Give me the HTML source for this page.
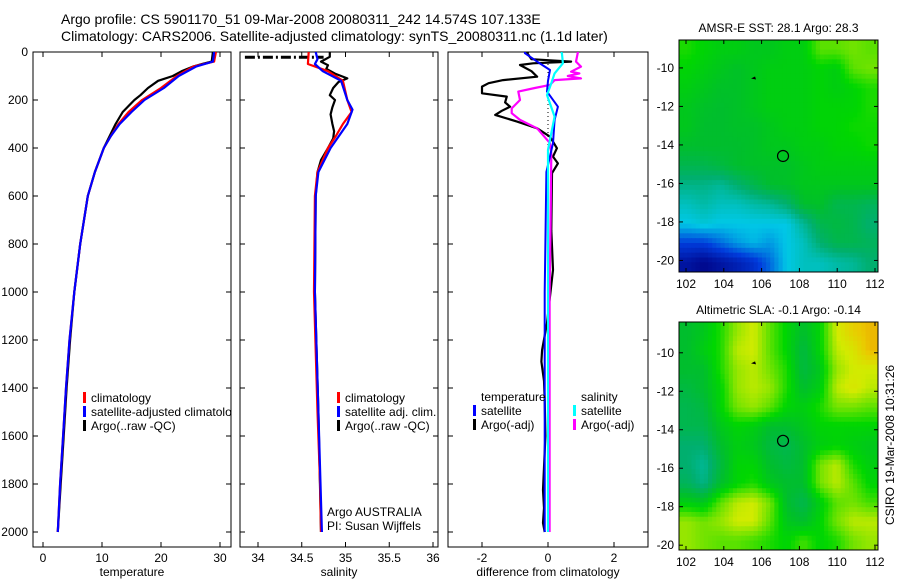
<!DOCTYPE html>
<html><head><meta charset="utf-8"><style>
html,body{margin:0;padding:0;background:#fff;}
svg{display:block;font-family:"Liberation Sans",sans-serif;}
</style></head><body>
<svg id="fig" width="900" height="580" viewBox="0 0 900 580" xmlns="http://www.w3.org/2000/svg">
<text x="61" y="24" font-size="14">Argo profile: CS 5901170_51 09-Mar-2008 20080311_242 14.574S 107.133E</text>
<text x="61" y="41" font-size="14">Climatology: CARS2006. Satellite-adjusted climatology: synTS_20080311.nc (1.1d later)</text>
<g id="g1"></g>
<g id="g2"></g>
<g id="g3"></g>
<g id="g4"></g>
<g id="g5"></g>
<text transform="translate(894,445) rotate(-90)" text-anchor="middle" font-size="12">CSIRO 19-Mar-2008 10:31:26</text>
</svg>
<script>
// ---------- data ----------
const depthTicks=[0,200,400,600,800,1000,1200,1400,1600,1800,2000];
const tempTicks=[0,10,20,30];
const salTicks=[34,34.5,35,35.5,36];
const diffTicks=[-2,0,2];
const lonTicks=[102,104,106,108,110,112];
const latTicks=[-10,-12,-14,-16,-18,-20];

const tClimD=[0,40,60,100,150,200,250,300,350,400,500,600,800,1000,1200,1400,1600,1800,2000];
const tClimV=[29.3,29,25.5,22.7,20,16.8,14.5,12.8,11.5,10.3,8.8,7.6,6.3,5.3,4.5,3.9,3.4,2.9,2.5];
const tAdjD=[0,40,60,100,150,200,250,300,350,400,500,600,800,1000,1200,1400,1600,1800,2000];
const tAdjV=[29,28.8,26,23,20.5,17.2,15,13,11.5,10.3,8.8,7.6,6.3,5.3,4.5,3.9,3.4,2.9,2.5];
const tArgoD=[0,40,50,60,80,100,120,150,180,200,250,300,350,400,500,600,800,1000,1200,1400,1600,1800,2000];
const tArgoV=[28.8,28.6,27,25.5,23.5,22,19.5,17.8,16.5,15.5,13.5,12.3,11.3,10.3,8.8,7.6,6.3,5.3,4.6,4.0,3.5,3.0,2.5];

const sClimD=[0,50,80,120,200,250,300,350,400,500,600,1000,1500,1800,2000];
const sClimV=[34.58,34.57,34.8,34.97,35.02,35.07,34.97,34.89,34.8,34.68,34.65,34.64,34.68,34.71,34.72];
const sAdjD=[0,30,50,80,120,200,240,300,400,500,600,1000,1500,2000];
const sAdjV=[34.66,34.68,34.65,34.74,34.95,35.02,35.08,35.02,34.83,34.69,34.66,34.65,34.69,34.73];
const sArgoD=[0,20,40,55,70,90,110,125,150,180,200,230,260,300,330,360,400,450,500,600,1000,1500,2000];
const sArgoV=[34.82,34.82,34.72,34.8,34.78,34.88,35.02,34.92,34.86,34.82,34.88,34.85,34.83,34.85,34.87,34.86,34.8,34.72,34.68,34.66,34.65,34.69,34.72];
const sBadD=[22,22];
const sBadV=[33.85,34.75];

const dTArgoD=[0,5,30,40,47,54,80,103,117,130,144,172,186,210,228,245,262,290,318,353,401,436,464,505,742,908,1129,1242,1290,1370,1450,1600,1825,1900,1962,2000];
const dTArgoV=[-0.6,-0.63,-0.5,0.7,-0.45,-0.85,-0.5,-0.33,-1.36,-1.8,-2.0,-2.0,-1.25,-1.3,-1.15,-1.4,-1.6,-0.94,-0.33,0.06,0.27,0.15,0.3,0.12,0.1,0.15,-0.03,-0.18,-0.2,-0.12,-0.1,-0.08,-0.15,-0.12,-0.15,-0.1];
const dTSatD=[0,5,40,75,120,165,228,283,380,500,1000,2000];
const dTSatV=[-0.7,-0.7,-0.33,0.06,0,-0.03,0.3,0.2,0.15,-0.05,-0.1,-0.1];
const dSArgoD=[0,5,40,61,82,89,100,110,117,137,150,165,200,235,255,283,318,380,422,700,1000,2000];
const dSArgoV=[0.9,0.9,0.85,1.0,0.7,0.95,0.6,1.0,0.2,0.06,-0.4,-0.9,-0.85,-1.1,-1.1,-0.85,-0.33,0.06,0.1,0.08,0.05,0.05];
const dSSatD=[0,5,47,89,130,179,269,408,1000,2000];
const dSSatV=[0.4,0.42,0.45,0.2,0.1,-0.03,0.2,0,0,0];

const sstGrid=[
[.65,.62,.6,.6,.58,.58,.6,.6,.7,.7,.72,.7],
[.62,.6,.58,.56,.58,.6,.6,.6,.62,.6,.7,.72],
[.6,.58,.56,.56,.58,.6,.6,.6,.62,.6,.62,.65],
[.58,.56,.55,.56,.58,.6,.6,.6,.62,.62,.62,.65],
[.58,.55,.55,.56,.56,.58,.6,.6,.62,.62,.64,.64],
[.55,.55,.55,.55,.56,.58,.58,.6,.6,.62,.62,.64],
[.5,.5,.52,.55,.56,.56,.56,.58,.6,.6,.6,.6],
[.42,.42,.4,.45,.5,.55,.56,.58,.58,.58,.58,.58],
[.35,.38,.35,.35,.38,.4,.45,.55,.56,.5,.5,.48],
[.3,.32,.3,.3,.3,.3,.3,.4,.5,.52,.5,.45],
[.15,.15,.2,.25,.28,.25,.3,.35,.45,.5,.5,.48],
[.05,.02,.05,.08,.12,.2,.3,.35,.35,.38,.4,.45]];
const slaGrid=[
[.55,.58,.65,.75,.8,.7,.62,.55,.62,.8,.88,.92],
[.55,.6,.65,.78,.8,.7,.62,.52,.62,.78,.82,.92],
[.55,.55,.65,.75,.78,.72,.65,.52,.58,.75,.8,.8],
[.52,.55,.62,.75,.78,.75,.65,.55,.6,.78,.82,.78],
[.5,.52,.62,.72,.75,.7,.62,.6,.65,.72,.72,.7],
[.5,.5,.58,.62,.6,.55,.55,.58,.62,.62,.62,.62],
[.45,.45,.55,.6,.58,.52,.5,.55,.6,.62,.6,.58],
[.45,.4,.52,.62,.62,.55,.52,.55,.72,.78,.65,.6],
[.48,.42,.55,.62,.65,.58,.55,.55,.72,.78,.7,.62],
[.6,.58,.7,.78,.8,.72,.55,.5,.6,.7,.72,.68],
[.75,.72,.75,.8,.8,.7,.58,.55,.62,.72,.78,.78],
[.75,.72,.7,.7,.68,.65,.62,.68,.62,.65,.72,.75]];
const floatPos=[107.133,-14.574];
const prevPos=[105.6,-10.5];

// ---------- helpers ----------
const NS="http://www.w3.org/2000/svg";
function mk(parent,tag,attrs,text){const e=document.createElementNS(NS,tag);for(const k in attrs)e.setAttribute(k,attrs[k]);if(text!==undefined)e.textContent=text;parent.appendChild(e);return e;}
const Y0=52,YS=0.24;
const yD=d=>Y0+d*YS;
const xT=v=>43+v*5.9;
const xS=v=>258+(v-34)*87.5;
const xDf=v=>548+v*33;
function pts(D,V,fx){return D.map((d,i)=>fx(V[i]).toFixed(1)+","+yD(d).toFixed(1)).join(" ");}

function panel(g,x0,x1,xt,fx,fmt,xlabel,showY){
  const yb=547;
  const f=mk(g,"rect",{x:x0,y:Y0,width:x1-x0,height:yb-Y0,fill:"none",stroke:"#000","stroke-width":1});
  
  
  depthTicks.forEach(d=>{
    const y=yD(d);
    mk(g,"line",{x1:x0,y1:y,x2:x0+5,y2:y,stroke:"#000"});
    mk(g,"line",{x1:x1-5,y1:y,x2:x1,y2:y,stroke:"#000"});
    if(showY){const t=mk(g,"text",{x:28,y:y+4,"font-size":12,"text-anchor":"end"},String(d));
      
      }
  });
  xt.forEach(v=>{
    const x=fx(v);
    mk(g,"line",{x1:x,y1:Y0,x2:x,y2:Y0+5,stroke:"#000"});
    mk(g,"line",{x1:x,y1:yb-5,x2:x,y2:yb,stroke:"#000"});
    const t=mk(g,"text",{x:x,y:562,"font-size":12,"text-anchor":"middle"},fmt(v));
    
    
  });
  const xl=mk(g,"text",{x:(x0+x1)/2,y:576,"font-size":12,"text-anchor":"middle"},xlabel);
  
  
}
function line(g,D,V,fx,col,w,name,dash){
  const p=mk(g,"polyline",{points:pts(D,V,fx),fill:"none",stroke:col,"stroke-width":w,"stroke-linejoin":"round"});
  if(dash)p.setAttribute("stroke-dasharray",dash);
  
  
}
function legend(g,x,y,col,txt){
  if(col)mk(g,"rect",{x:x-8,y:y-10,width:3,height:11,fill:col});
  const t=mk(g,"text",{x:x,y:y,"font-size":12},txt);
  
  
}

// ---------- temperature ----------
const g1=document.getElementById("g1");
const cp1=mk(g1,"clipPath",{id:"c1"});mk(cp1,"rect",{x:33,y:52,width:198,height:495});
panel(g1,33,231,tempTicks,xT,String,"temperature",true);
const h1=mk(g1,"g",{"clip-path":"url(#c1)"});
line(h1,tArgoD,tArgoV,xT,"#000",2.2,"temp-argo-line");
line(h1,tClimD,tClimV,xT,"#f00",2.2,"temp-clim-line");
line(h1,tAdjD,tAdjV,xT,"#00f",2.2,"temp-adj-line");
legend(h1,91,402,"#f00","climatology");
legend(h1,91,416,"#00f","satellite-adjusted climatology");
legend(h1,91,430,"#000","Argo(..raw -QC)");

// ---------- salinity ----------
const g2=document.getElementById("g2");
const cp2=mk(g2,"clipPath",{id:"c2"});mk(cp2,"rect",{x:240,y:52,width:198,height:495});
panel(g2,240,438,salTicks,xS,String,"salinity",false);
const h2=mk(g2,"g",{"clip-path":"url(#c2)"});
line(h2,sBadD,sBadV,xS,"#000",3,"sal-argo-bad-values","10,3,2,3");
line(h2,sArgoD,sArgoV,xS,"#000",2.2,"sal-argo-line");
line(h2,sClimD,sClimV,xS,"#f00",2.2,"sal-clim-line");
line(h2,sAdjD,sAdjV,xS,"#00f",2.2,"sal-adj-line");
legend(h2,345,402,"#f00","climatology");
legend(h2,345,416,"#00f","satellite adj. clim.");
legend(h2,345,430,"#000","Argo(..raw -QC)");
legend(h2,327,516,null,"Argo AUSTRALIA");
legend(h2,327,530,null,"PI: Susan Wijffels");

// ---------- difference ----------
const g3=document.getElementById("g3");
const cp3=mk(g3,"clipPath",{id:"c3"});mk(cp3,"rect",{x:448,y:52,width:200,height:495});
panel(g3,448,648,diffTicks,xDf,String,"difference from climatology",false);
const h3=mk(g3,"g",{"clip-path":"url(#c3)"});
mk(h3,"line",{x1:xDf(0),y1:yD(0),x2:xDf(0),y2:yD(2000),stroke:"#000","stroke-dasharray":"1,3"});
line(h3,dTArgoD,dTArgoV,xDf,"#000",2.2,"diff-temp-argo-line");
line(h3,dSArgoD,dSArgoV,xDf,"#f0f",2.2,"diff-sal-argo-line");
line(h3,dTSatD,dTSatV,xDf,"#00f",2,"diff-temp-sat-line");
line(h3,dSSatD,dSSatV,xDf,"#0ff",2.2,"diff-sal-sat-line");
legend(h3,481,401,null,"temperature");
legend(h3,481,415,"#00f","satellite");
legend(h3,481,429,"#000","Argo(-adj)");
legend(h3,581,401,null,"salinity");
legend(h3,581,415,"#0ff","satellite");
legend(h3,581,429,"#f0f","Argo(-adj)");

// ---------- maps ----------
const stops=[[0,[0,0,130]],[0.15,[0,60,220]],[0.3,[0,200,230]],[0.45,[0,175,110]],[0.55,[0,190,45]],[0.63,[0,215,0]],[0.7,[90,225,0]],[0.8,[210,235,0]],[0.9,[235,200,0]],[1,[235,120,0]]];
function cmap(v){v=Math.max(0,Math.min(1,v));for(let i=1;i<stops.length;i++){if(v<=stops[i][0]){const a=stops[i-1],b=stops[i],t=(v-a[0])/(b[0]-a[0]);const c=a[1].map((q,k)=>Math.round(q+(b[1][k]-q)*t));return "rgb("+c.join(",")+")";}}return "rgb(235,120,0)";}
function sample(grid,r,c){
  const R=grid.length,C=grid[0].length;
  r=Math.max(0,Math.min(R-1,r));c=Math.max(0,Math.min(C-1,c));
  const r0=Math.floor(r),c0=Math.floor(c),r1=Math.min(R-1,r0+1),c1=Math.min(C-1,c0+1),fr=r-r0,fc=c-c0;
  return (grid[r0][c0]*(1-fc)+grid[r0][c1]*fc)*(1-fr)+(grid[r1][c0]*(1-fc)+grid[r1][c1]*fc)*fr;
}
function map(g,grid,x0,y0,x1,y1,latTop,latBot,title){
  const fx=lon=>686+(lon-102)*18.9;
  const fy=lat=>y0+(latTop-lat)/(latTop-latBot)*(y1-y0);
  const rows=grid.length,cols=grid[0].length,N=4;
  const cw=(x1-x0)/(cols*N),ch=(y1-y0)/(rows*N);
  for(let i=0;i<rows*N;i++)for(let j=0;j<cols*N;j++){
    const v=sample(grid,(i+0.5)/N-0.5,(j+0.5)/N-0.5);
    const c=mk(g,"rect",{x:(x0+j*cw).toFixed(2),y:(y0+i*ch).toFixed(2),width:(cw+0.5).toFixed(2),height:(ch+0.5).toFixed(2),fill:cmap(v)});
    
    
  }
  mk(g,"rect",{x:x0,y:y0,width:x1-x0,height:y1-y0,fill:"none",stroke:"#000"});
  lonTicks.forEach(l=>{const x=fx(l);mk(g,"line",{x1:x,y1:y0,x2:x,y2:y0+4,stroke:"#000"});mk(g,"line",{x1:x,y1:y1-4,x2:x,y2:y1,stroke:"#000"});
    const t=mk(g,"text",{x:x,y:y1+16,"font-size":12,"text-anchor":"middle"},String(l));
    
    });
  latTicks.forEach(l=>{const y=fy(l);mk(g,"line",{x1:x0,y1:y,x2:x0+4,y2:y,stroke:"#000"});mk(g,"line",{x1:x1-4,y1:y,x2:x1,y2:y,stroke:"#000"});
    const t=mk(g,"text",{x:x0-5,y:y+4,"font-size":12,"text-anchor":"end"},String(l));
    
    });
  const tt=mk(g,"text",{x:(x0+x1)/2,y:y0-8,"font-size":12,"text-anchor":"middle"},title);
  
  
  const c=mk(g,"circle",{cx:fx(floatPos[0]),cy:fy(floatPos[1]),r:5.5,fill:"none",stroke:"#000","stroke-width":1.2});
  
  
  const a=mk(g,"path",{d:"M"+(fx(prevPos[0])-3)+","+(fy(prevPos[1])+1)+" l4,-2 l1,3 z",fill:"#000"});
  
  
}
map(document.getElementById("g4"),sstGrid,679,40,878,272,-8.55,-20.6,"AMSR-E SST: 28.1  Argo: 28.3");
map(document.getElementById("g5"),slaGrid,679,322,878,550,-8.4,-20.25,"Altimetric SLA: -0.1  Argo: -0.14");
</script>
</body></html>
